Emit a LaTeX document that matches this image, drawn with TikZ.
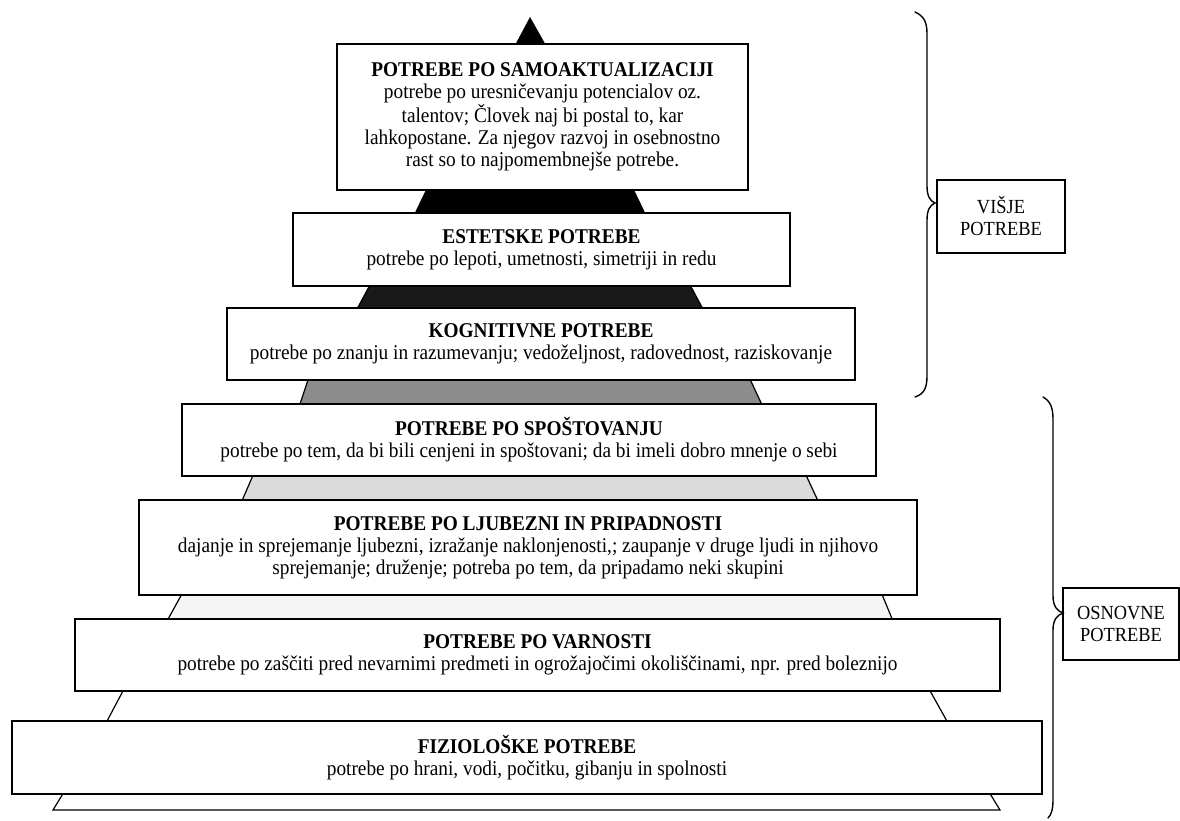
\documentclass[tikz,border=0pt]{standalone}
\usepackage{fontspec}
\setmainfont[FakeStretch=0.92]{Liberation Serif}
\begin{document}
\begin{tikzpicture}[x=1pt,y=-1pt]
\tikzset{
  lvl/.style={draw=black, line width=1.5pt, fill=white, inner sep=0pt, align=center,
    font=\fontsize{21}{22}\selectfont},
  lbl/.style={draw=black, line width=1.3pt, fill=white, inner sep=0pt, align=center,
    font=\fontsize{20}{22}\selectfont},
  piece/.style={draw=black, line width=1.2pt, line join=miter},
  brace/.style={draw=black, line width=1.4pt, line cap=round}
}
\useasboundingbox (0,0) rectangle (1180,820);
\fill[white] (0,0) rectangle (1180,820);

% pyramid pieces between the boxes
\fill[black] (530,17) -- (514,47) -- (547,47) -- cycle;
\filldraw[piece, fill=black] (428,187) -- (414,216) -- (646,216) -- (632,187) -- cycle;
\filldraw[piece, fill=black!90] (371,283) -- (356,311) -- (704,311) -- (689,283) -- cycle;
\filldraw[piece, fill=black!45] (309,377) -- (299,407) -- (763,407) -- (749,377) -- cycle;
\filldraw[piece, fill=black!14] (254,473) -- (241,503) -- (819,503) -- (805,473) -- cycle;
\filldraw[piece, fill=black!4] (183,592) -- (167,621) -- (893,621) -- (881,592) -- cycle;
\filldraw[piece, fill=white] (124,689) -- (106,723) -- (948,723) -- (929,689) -- cycle;
\filldraw[piece, fill=white] (64,792) -- (53,810) -- (1000,810) -- (989,792) -- cycle;

% levels
\node[lvl, minimum width=411pt, minimum height=146pt] (b1) at (542.5,117)
  {\textbf{POTREBE PO SAMOAKTUALIZACIJI}\\
   potrebe po uresničevanju potencialov oz.\\
   talentov; Človek naj bi postal to, kar\\
   lahkopostane. Za njegov razvoj in osebnostno\\
   rast so to najpomembnejše potrebe.};
\node[lvl, minimum width=497pt, minimum height=73pt] (b2) at (541.5,249.5)
  {\textbf{ESTETSKE POTREBE}\\
   potrebe po lepoti, umetnosti, simetriji in redu};
\node[lvl, minimum width=628pt, minimum height=72pt] (b3) at (541,344)
  {\textbf{KOGNITIVNE POTREBE}\\
   potrebe po znanju in razumevanju; vedoželjnost, radovednost, raziskovanje};
\node[lvl, minimum width=694pt, minimum height=72pt] (b4) at (529,440)
  {\textbf{POTREBE PO SPOŠTOVANJU}\\
   potrebe po tem, da bi bili cenjeni in spoštovani; da bi imeli dobro mnenje o sebi};
\node[lvl, minimum width=778pt, minimum height=95pt] (b5) at (528,547.5)
  {\textbf{POTREBE PO LJUBEZNI IN PRIPADNOSTI}\\
   dajanje in sprejemanje ljubezni, izražanje naklonjenosti,; zaupanje v druge ljudi in njihovo\\
   sprejemanje; druženje; potreba po tem, da pripadamo neki skupini};
\node[lvl, minimum width=925pt, minimum height=72pt] (b6) at (537.5,655)
  {\textbf{POTREBE PO VARNOSTI}\\
   potrebe po zaščiti pred nevarnimi predmeti in ogrožajočimi okoliščinami, npr. pred boleznijo};
\node[lvl, minimum width=1030pt, minimum height=73pt] (b7) at (527,757.5)
  {\textbf{FIZIOLOŠKE POTREBE}\\
   potrebe po hrani, vodi, počitku, gibanju in spolnosti};

% group labels
\node[lbl, minimum width=128pt, minimum height=73pt] (hi) at (1001,216.5)
  {VIŠJE\\POTREBE};
\node[lbl, minimum width=116pt, minimum height=72pt] (lo) at (1121,624)
  {OSNOVNE\\POTREBE};

% braces
\draw[brace] (915,12) .. controls (924,16) and (927,22) .. (927,34)
  -- (927,186) .. controls (927,196) and (930,201) .. (935,203)
  .. controls (930,205) and (927,210) .. (927,220)
  -- (927,376) .. controls (927,388) and (924,394) .. (915,397);
\draw[brace] (1043,397) .. controls (1050,401) and (1053,407) .. (1053,419)
  -- (1053,596) .. controls (1053,606) and (1057,611) .. (1063,613)
  .. controls (1057,615) and (1053,620) .. (1053,630)
  -- (1053,800) .. controls (1053,810) and (1051,815) .. (1048,818);
\end{tikzpicture}
\end{document}
